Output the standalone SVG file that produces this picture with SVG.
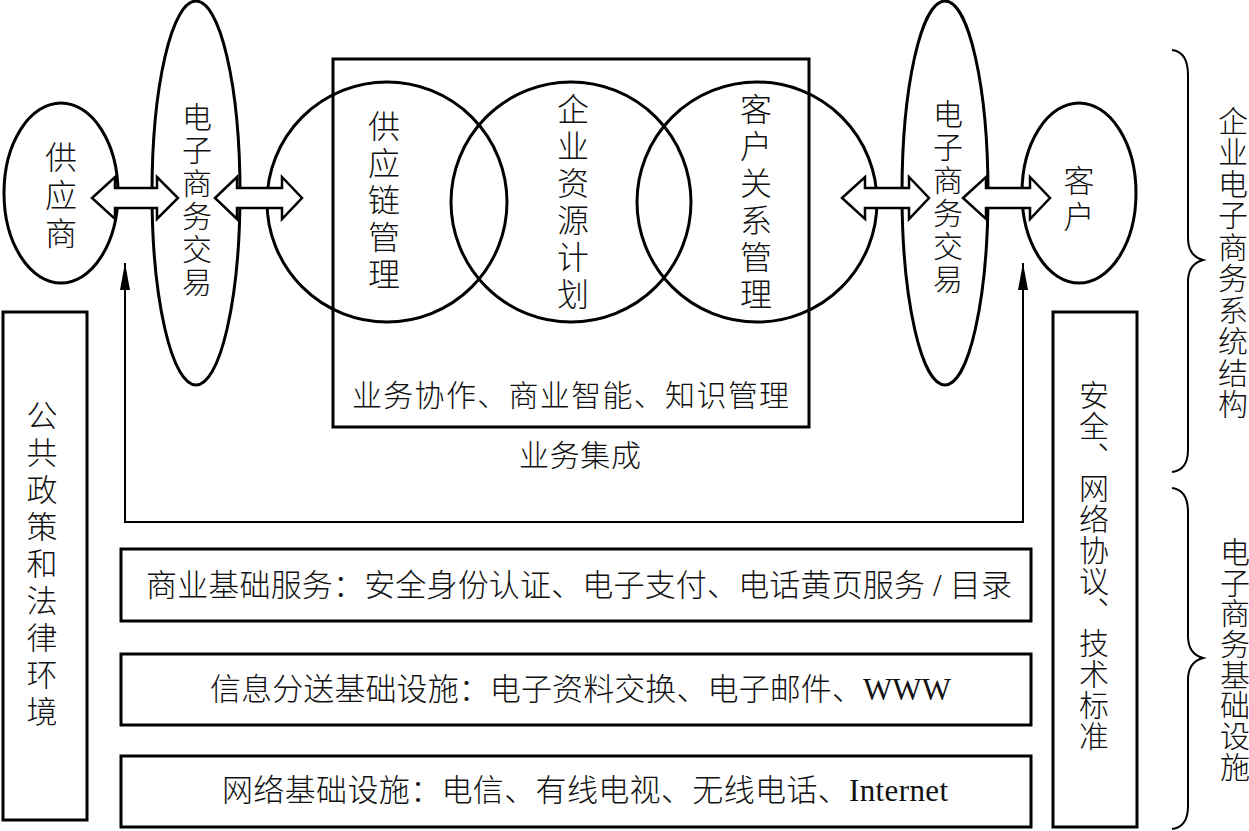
<svg xmlns="http://www.w3.org/2000/svg" width="1249" height="831" viewBox="0 0 1249 831">
<style>
.sh{fill:none;stroke:#000;stroke-width:3}
.arr{fill:#fff;stroke:#000;stroke-width:2.5;stroke-linejoin:miter}
.br{fill:none;stroke:#000;stroke-width:2}
.t{font-family:"Liberation Serif","Noto Sans CJK SC",serif;font-size:30px;font-weight:300;fill:#111}
.c{text-anchor:middle}
.v{font-family:"Noto Sans CJK SC",sans-serif;font-size:30px;font-weight:300;fill:#111;writing-mode:vertical-rl;letter-spacing:1px}
.ln{fill:none;stroke:#000;stroke-width:2}
</style>
<defs>
<marker id="ah" viewBox="0 0 27 10" refX="27" refY="5" markerWidth="27" markerHeight="10" markerUnits="userSpaceOnUse" orient="auto-start-reverse">
<path d="M0,0 L27,5 L0,10 z" fill="#000"/>
</marker>
</defs>
<rect width="1249" height="831" fill="#fff"/>

<g id="connectors">
<path class="ln" d="M125,263 V522 H1023 V263" marker-start="url(#ah)" marker-end="url(#ah)"/>
</g>

<g id="supplier">
<ellipse class="sh" cx="61" cy="193" rx="57" ry="90"/>
<text class="t c" style="font-size:32px"><tspan x="61" y="169">供</tspan><tspan x="61" y="207">应</tspan><tspan x="61" y="245">商</tspan></text>
</g>

<g id="ec-left">
<ellipse class="sh" cx="196" cy="193" rx="44" ry="192"/>
<text class="t c"><tspan x="197" y="128">电</tspan><tspan x="197" y="161">子</tspan><tspan x="197" y="194">商</tspan><tspan x="197" y="227">务</tspan><tspan x="197" y="260">交</tspan><tspan x="197" y="293">易</tspan></text>
</g>

<g id="integration">
<rect class="sh" x="333" y="59" width="476" height="368"/>
<text class="t" x="352" y="406" textLength="437" lengthAdjust="spacing">业务协作、商业智能、知识管理</text>
<text class="t" x="519" y="466" textLength="122" lengthAdjust="spacing">业务集成</text>
</g>

<g id="scm">
<circle class="sh" cx="387" cy="202" r="120"/>
<text class="t c" style="font-size:32px"><tspan x="384" y="138">供</tspan><tspan x="384" y="175">应</tspan><tspan x="384" y="212">链</tspan><tspan x="384" y="249">管</tspan><tspan x="384" y="286">理</tspan></text>
</g>

<g id="erp">
<circle class="sh" cx="571" cy="202" r="120"/>
<text class="t c" style="font-size:32px"><tspan x="573" y="121">企</tspan><tspan x="573" y="158">业</tspan><tspan x="573" y="195">资</tspan><tspan x="573" y="232">源</tspan><tspan x="573" y="269">计</tspan><tspan x="573" y="306">划</tspan></text>
</g>

<g id="crm">
<circle class="sh" cx="757" cy="202" r="120"/>
<text class="t c" style="font-size:32px"><tspan x="756" y="121">客</tspan><tspan x="756" y="158">户</tspan><tspan x="756" y="195">关</tspan><tspan x="756" y="232">系</tspan><tspan x="756" y="269">管</tspan><tspan x="756" y="306">理</tspan></text>
</g>

<g id="ec-right">
<ellipse class="sh" cx="945" cy="193" rx="43" ry="192"/>
<text class="t c"><tspan x="948" y="125">电</tspan><tspan x="948" y="158">子</tspan><tspan x="948" y="191">商</tspan><tspan x="948" y="224">务</tspan><tspan x="948" y="257">交</tspan><tspan x="948" y="290">易</tspan></text>
</g>

<g id="customer">
<ellipse class="sh" cx="1079" cy="193" rx="57" ry="90"/>
<text class="t c" style="font-size:31px"><tspan x="1079" y="192">客</tspan><tspan x="1079" y="228">户</tspan></text>
</g>

<g id="arrows">
<polygon class="arr" points="92,198 115,177 115,188 157,188 157,177 178,198 157,219 157,208 115,208 115,219"/>
<polygon class="arr" points="215,198 237,177 237,188 282,188 282,177 302,198 282,219 282,208 237,208 237,219"/>
<polygon class="arr" points="842,198 865,177 865,188 909,188 909,177 929,198 909,219 909,208 865,208 865,219"/>
<polygon class="arr" points="963,198 986,177 986,188 1030,188 1030,177 1050,198 1030,219 1030,208 986,208 986,219"/>
</g>

<g id="policy">
<rect class="sh" x="3" y="312" width="84" height="508"/>
<text class="t c" style="font-size:31px"><tspan x="42" y="427">公</tspan><tspan x="42" y="464">共</tspan><tspan x="42" y="501">政</tspan><tspan x="42" y="538">策</tspan><tspan x="42" y="575">和</tspan><tspan x="42" y="612">法</tspan><tspan x="42" y="649">律</tspan><tspan x="42" y="686">环</tspan><tspan x="42" y="723">境</tspan></text>
</g>

<g id="standards">
<rect class="sh" x="1053" y="312" width="84" height="515"/>
<text class="v" x="1094" y="380">安全、网络协议、技术标准</text>
</g>

<g id="biz-services">
<rect class="sh" x="121" y="549" width="910" height="72"/>
<text class="t" x="146" y="596" style="font-size:31px" textLength="866" lengthAdjust="spacing">商业基础服务：安全身份认证、电子支付、电话黄页服务 / 目录</text>
</g>

<g id="info-infra">
<rect class="sh" x="121" y="654" width="910" height="71"/>
<text class="t" x="210" y="700" style="font-size:31px" textLength="741" lengthAdjust="spacing">信息分送基础设施：电子资料交换、电子邮件、WWW</text>
</g>

<g id="net-infra">
<rect class="sh" x="121" y="756" width="910" height="71"/>
<text class="t" x="222" y="801" style="font-size:31px" textLength="726" lengthAdjust="spacing">网络基础设施：电信、有线电视、无线电话、Internet</text>
</g>

<g id="brace-system">
<path class="br" d="M1172,50 Q1188,52 1188,75 L1188,238 Q1188,256 1203,260 Q1188,264 1188,282 L1188,450 Q1188,470 1172,472"/>
<text class="t c"><tspan x="1233" y="132">企</tspan><tspan x="1233" y="163">业</tspan><tspan x="1233" y="195">电</tspan><tspan x="1233" y="226">子</tspan><tspan x="1233" y="258">商</tspan><tspan x="1233" y="289">务</tspan><tspan x="1233" y="321">系</tspan><tspan x="1233" y="352">统</tspan><tspan x="1233" y="384">结</tspan><tspan x="1233" y="415">构</tspan></text>
</g>

<g id="brace-infra">
<path class="br" d="M1172,488 Q1188,490 1188,512 L1188,636 Q1188,654 1203,658 Q1188,662 1188,680 L1188,806 Q1188,827 1172,829"/>
<text class="t c"><tspan x="1235" y="563">电</tspan><tspan x="1235" y="594">子</tspan><tspan x="1235" y="624">商</tspan><tspan x="1235" y="655">务</tspan><tspan x="1235" y="686">基</tspan><tspan x="1235" y="716">础</tspan><tspan x="1235" y="747">设</tspan><tspan x="1235" y="778">施</tspan></text>
</g>
</svg>
